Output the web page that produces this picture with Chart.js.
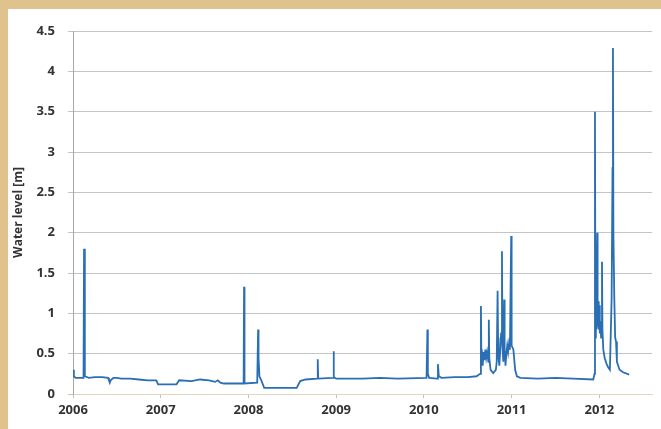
<!DOCTYPE html>
<html>
<head>
<meta charset="utf-8">
<script src="https://cdn.jsdelivr.net/npm/chart.js@4/dist/chart.umd.min.js"></script>
<style>
  html, body { margin: 0; padding: 0; background: #E0C28D; width: 661px; height: 429px; overflow: hidden; }
  #panel { position: absolute; left: 8px; top: 9px; width: 653px; height: 420px; background: #ffffff; }
  #wrap { position: absolute; left: 0; top: 0; width: 661px; height: 429px; }
</style>
</head>
<body>
<div id="panel"></div>
<div id="wrap"><canvas id="c" width="661" height="429"></canvas></div>
<script>
// Decimal-year positions of the readings
const years = [
  2006.00, 2006.01, 2006.03, 2006.12, 2006.126, 2006.135, 2006.18, 2006.25, 2006.33, 2006.40,
  2006.41, 2006.42, 2006.43, 2006.46, 2006.50, 2006.55, 2006.65, 2006.75, 2006.85, 2006.95,
  2006.97, 2007.18, 2007.21, 2007.35, 2007.45, 2007.55, 2007.62, 2007.65, 2007.68, 2007.72,
  2007.945, 2007.95, 2007.955, 2008.10, 2008.11, 2008.115, 2008.125, 2008.15, 2008.18, 2008.55,
  2008.59, 2008.65, 2008.785, 2008.79, 2008.795, 2008.965, 2008.97, 2008.975, 2009.00, 2009.30,
  2009.50, 2009.70, 2010.03, 2010.04, 2010.045, 2010.06, 2010.15, 2010.16, 2010.17, 2010.20,
  2010.35, 2010.50, 2010.60, 2010.64, 2010.65, 2010.655, 2010.66, 2010.67, 2010.68, 2010.69,
  2010.70, 2010.71, 2010.72, 2010.735, 2010.74, 2010.745, 2010.76, 2010.79, 2010.82, 2010.83,
  2010.84, 2010.845, 2010.85, 2010.86, 2010.87, 2010.88, 2010.89, 2010.895, 2010.905, 2010.915,
  2010.92, 2010.93, 2010.94, 2010.95, 2010.96, 2010.97, 2010.98, 2010.995, 2011.00, 2011.02,
  2011.04, 2011.06, 2011.10, 2011.30, 2011.50, 2011.70, 2011.93, 2011.945, 2011.95, 2011.955,
  2011.96, 2011.965, 2011.975, 2011.98, 2011.985, 2011.99, 2011.995, 2012.00, 2012.005, 2012.01,
  2012.02, 2012.03, 2012.035, 2012.045, 2012.06, 2012.08, 2012.10, 2012.12, 2012.14, 2012.15,
  2012.155, 2012.16, 2012.17, 2012.18, 2012.19, 2012.20, 2012.23, 2012.27, 2012.34
];
// Water level [m]
const levels = [
  0.30, 0.22, 0.20, 0.20, 1.80, 0.22, 0.20, 0.21, 0.21, 0.20,
  0.17, 0.14, 0.17, 0.20, 0.20, 0.19, 0.19, 0.18, 0.17, 0.17,
  0.12, 0.12, 0.17, 0.16, 0.18, 0.17, 0.15, 0.17, 0.14, 0.13,
  0.13, 1.33, 0.13, 0.14, 0.80, 0.45, 0.22, 0.16, 0.075, 0.075,
  0.16, 0.18, 0.19, 0.43, 0.19, 0.20, 0.53, 0.21, 0.19, 0.19,
  0.20, 0.19, 0.20, 0.80, 0.25, 0.20, 0.19, 0.37, 0.22, 0.20,
  0.21, 0.21, 0.22, 0.25, 1.09, 0.45, 0.55, 0.35, 0.52, 0.42,
  0.55, 0.45, 0.52, 0.40, 0.92, 0.45, 0.30, 0.26, 0.30, 0.40,
  1.28, 0.70, 0.45, 0.35, 0.55, 0.75, 1.77, 0.60, 0.40, 1.17,
  0.55, 0.35, 0.50, 0.60, 0.52, 0.62, 0.55, 1.96, 0.60, 0.55,
  0.30, 0.22, 0.20, 0.19, 0.20, 0.19, 0.18, 0.25, 3.50, 0.70,
  1.10, 0.80, 2.00, 1.10, 0.85, 1.15, 0.80, 1.10, 0.75, 0.90,
  0.70, 1.64, 0.80, 0.55, 0.45, 0.38, 0.33, 0.30, 1.20, 2.80,
  4.29, 2.00, 1.20, 0.70, 0.65, 0.40, 0.30, 0.27, 0.24
];
const yearTicks = [2006, 2007, 2008, 2009, 2010, 2011, 2012];
const yTitle = 'Water level [m]';

const points = years.map((x, i) => ({ x: x, y: levels[i] }));
const font = { family: '"Open Sans", "Liberation Sans", sans-serif', size: 13, weight: 'bold' };

new Chart(document.getElementById('c'), {
  type: 'line',
  data: {
    datasets: [{
      data: points,
      borderColor: '#2A6FB4',
      borderWidth: 1.8,
      pointRadius: 0,
      tension: 0,
      fill: false
    }]
  },
  options: {
    responsive: false,
    animation: false,
    events: [],
    layout: { padding: { top: 31, right: 9, bottom: 0, left: 0 } },
    plugins: { legend: { display: false }, tooltip: { enabled: false } },
    scales: {
      x: {
        type: 'linear',
        min: 2006,
        max: 2012.6,
        afterFit: (s) => { s.height = 35; },
        afterBuildTicks: (s) => { s.ticks = yearTicks.map(v => ({ value: v })); },
        grid: { drawOnChartArea: false, drawTicks: true, tickLength: 4, color: '#c9c0b4' },
        border: { display: true, color: '#e3d3bf', width: 1 },
        ticks: { font: font, color: '#333333', padding: 4, maxRotation: 0, callback: (v) => String(v) }
      },
      y: {
        min: 0,
        max: 4.5,
        afterFit: (s) => { s.width = 73; },
        grid: { color: '#c4c4c4', lineWidth: 1, tickLength: 5, drawTicks: true },
        border: { display: true, color: '#a8a8a8', width: 1 },
        ticks: { stepSize: 0.5, font: font, color: '#333333', padding: 13, callback: (v) => String(v) },
        title: { display: true, text: yTitle, font: { family: font.family, size: 12, weight: 'bold' }, color: '#333333', padding: { top: 11, bottom: 0 } }
      }
    }
  }
});
</script>
</body>
</html>
